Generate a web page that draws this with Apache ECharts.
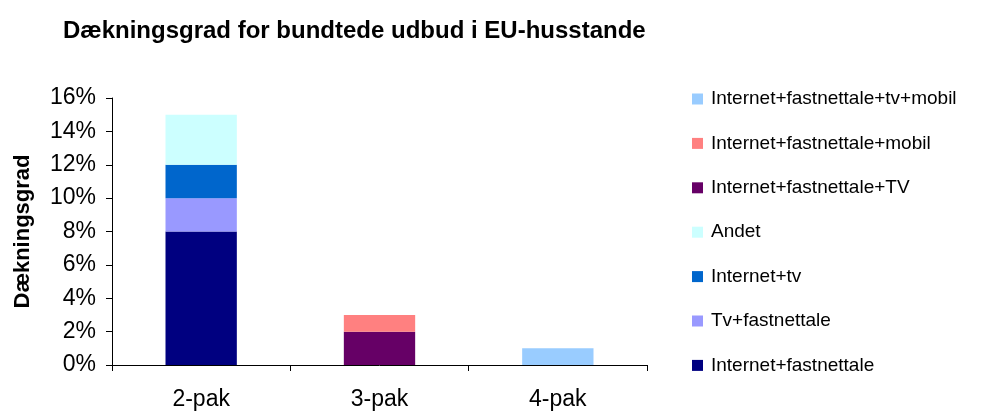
<!DOCTYPE html>
<html>
<head>
<meta charset="utf-8">
<script src="https://cdn.jsdelivr.net/npm/echarts@6/dist/echarts.min.js"></script>
<style>
  html, body { margin: 0; padding: 0; background: #fff; }
  #chart { width: 985px; height: 412px; }
</style>
</head>
<body>
<div id="chart"></div>
<script>
// data
var categories = ['2-pak', '3-pak', '4-pak'];
var seriesNames = [
    'Internet+fastnettale',
    'Tv+fastnettale',
    'Internet+tv',
    'Andet',
    'Internet+fastnettale+TV',
    'Internet+fastnettale+mobil',
    'Internet+fastnettale+tv+mobil'
];
var seriesValues = [
    [8, '-', '-'],
    [2, '-', '-'],
    [2, '-', '-'],
    [3, '-', '-'],
    ['-', 2, '-'],
    ['-', 1, '-'],
    ['-', '-', 1]
];
var seriesColors = ['#000080', '#9999FF', '#0066CC', '#CCFFFF', '#660066', '#FF8080', '#99CCFF'];
var yTicks = [0, 2, 4, 6, 8, 10, 12, 14, 16];

var font = 'Liberation Sans, Arial, sans-serif';

var chart = echarts.init(document.getElementById('chart'));

var series = seriesNames.map(function (name, i) {
    return {
        name: name,
        type: 'bar',
        stack: 'total',
        barWidth: '40%',
        itemStyle: { color: seriesColors[i] },
        data: seriesValues[i]
    };
});

var option = {
    animation: false,
    title: {
        text: 'Dækningsgrad for bundtede udbud i EU-husstande',
        left: 58,
        top: 14,
        textStyle: { fontFamily: font, fontSize: 24, fontWeight: 'bold', color: '#000' }
    },
    legend: {
        orient: 'vertical',
        left: 692,
        top: 88,
        padding: 0,
        itemWidth: 11,
        itemHeight: 11,
        itemGap: 22.4,
        icon: 'rect',
        data: seriesNames.slice().reverse(),
        textStyle: { fontFamily: font, fontSize: 19, color: '#000', lineHeight: 22, padding: [0, 0, 0, 3] }
    },
    grid: { left: 112, right: 338, top: 98, bottom: 47, outerBoundsMode: 'none', containLabel: false },
    xAxis: {
        type: 'category',
        data: categories,
        axisLine: { lineStyle: { color: '#000' } },
        axisTick: { show: true, length: 6, lineStyle: { color: '#000' } },
        axisLabel: { fontFamily: font, fontSize: 23, color: '#000', margin: 23 }
    },
    yAxis: {
        type: 'value',
        min: yTicks[0],
        max: yTicks[yTicks.length - 1],
        interval: 2,
        name: 'Dækningsgrad',
        nameLocation: 'middle',
        nameRotate: 90,
        nameGap: 78,
        nameTextStyle: { fontFamily: font, fontSize: 22, fontWeight: 'bold', color: '#000' },
        axisLine: { show: true, lineStyle: { color: '#000' } },
        axisTick: { show: true, length: 6, lineStyle: { color: '#000' } },
        splitLine: { show: false },
        axisLabel: { fontFamily: font, fontSize: 23, color: '#000', margin: 16, formatter: '{value}%' }
    },
    series: series
};

chart.setOption(option);
</script>
</body>
</html>
